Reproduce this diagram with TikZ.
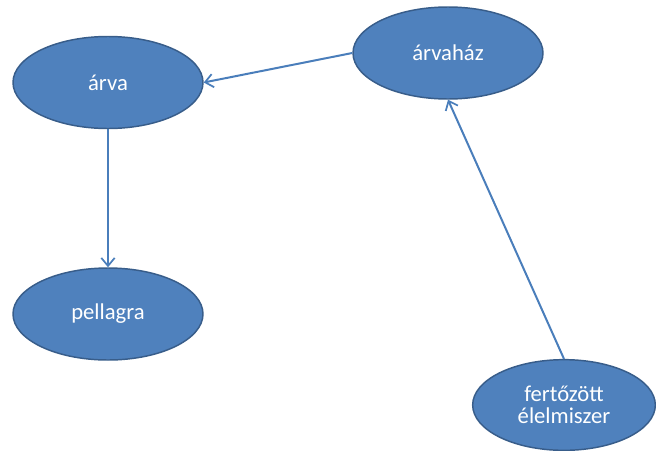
\documentclass[tikz,border=0pt]{standalone}
\usepackage{fontspec}
\setmainfont{Carlito}
\usetikzlibrary{shapes.geometric,arrows.meta}
\definecolor{nodefill}{HTML}{4F81BD}
\definecolor{nodeedge}{HTML}{385D8A}
\definecolor{linkcol}{HTML}{4A7EBB}
\tikzset{
  bubble/.style={ellipse, draw=nodeedge, fill=nodefill, line width=1.1pt, inner sep=0pt,
    text=white, font=\fontsize{17}{16.5}\selectfont, align=center},
  link/.style={draw=linkcol, line width=1.5pt, -{Straight Barb[length=6pt,width=10pt,line width=1.3pt]}}
}
\begin{document}
\begin{tikzpicture}[x=0.75pt,y=-0.75pt]
\useasboundingbox (0,0) rectangle (656,450);
\node[bubble, minimum width=142.5pt, minimum height=69pt] (arva) at (108,82.5) {árva};
\node[bubble, minimum width=142.5pt, minimum height=69pt] (arvahaz) at (448,53) {árvaház};
\node[bubble, minimum width=142.5pt, minimum height=69pt] (pellagra) at (108,314) {pellagra};
\node[bubble, minimum width=137pt, minimum height=68pt] (elelmiszer) at (564,405) {fertőzött\\élelmiszer};
\draw[link] (arvahaz.west) -- (arva.east);
\draw[link] (arva.south) -- (pellagra.north);
\draw[link] (elelmiszer.north) -- (arvahaz.south);
\end{tikzpicture}
\end{document}
